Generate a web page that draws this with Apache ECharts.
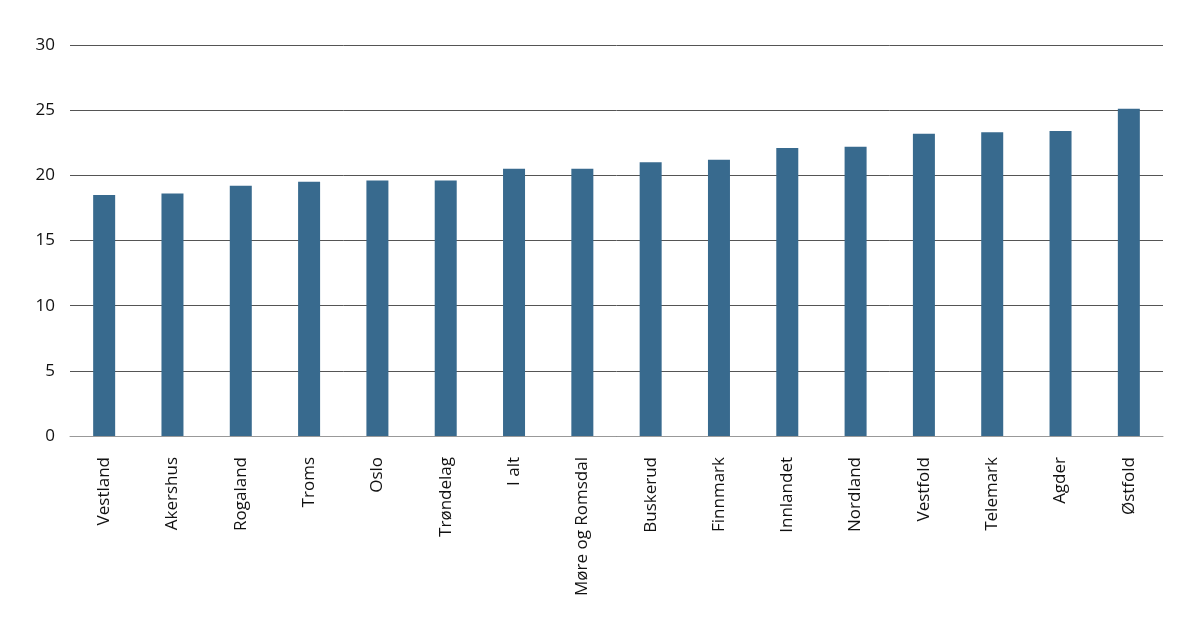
<!DOCTYPE html>
<html><head><meta charset="utf-8">
<script src="https://cdn.jsdelivr.net/npm/echarts@6/dist/echarts.min.js"></script>
<style>html,body{margin:0;padding:0;background:#fff}#c{width:1198px;height:638px}</style>
</head><body><div id="c"></div>
<script>
const categories = ["Vestland","Akershus","Rogaland","Troms","Oslo","Trøndelag","I alt","Møre og Romsdal","Buskerud","Finnmark","Innlandet","Nordland","Vestfold","Telemark","Agder","Østfold"];
const values = [18.5,18.6,19.2,19.5,19.6,19.6,20.5,20.5,21.0,21.2,22.1,22.2,23.2,23.3,23.4,25.1];
const yTicks = [0,5,10,15,20,25,30];

const chart = echarts.init(document.getElementById('c'));
chart.setOption({
  animation:false,
  grid:{left:70,right:35,top:45,bottom:202,containLabel:false},
  xAxis:{type:'category',data:categories,
    axisLine:{lineStyle:{color:'#999',width:1}},
    axisTick:{show:false},
    axisLabel:{rotate:90,color:'#111',fontSize:17,fontFamily:'Open Sans',margin:21}},
  yAxis:{type:'value',min:yTicks[0],max:yTicks[yTicks.length-1],interval:5,
    axisLine:{show:false},axisTick:{show:false},
    axisLabel:{color:'#111',fontSize:17,fontFamily:'Open Sans',margin:15},
    splitLine:{lineStyle:{color:'#555',width:1}}},
  series:[{type:'bar',data:values,barWidth:22,itemStyle:{color:'#386a8e'}}]
});
</script></body></html>
